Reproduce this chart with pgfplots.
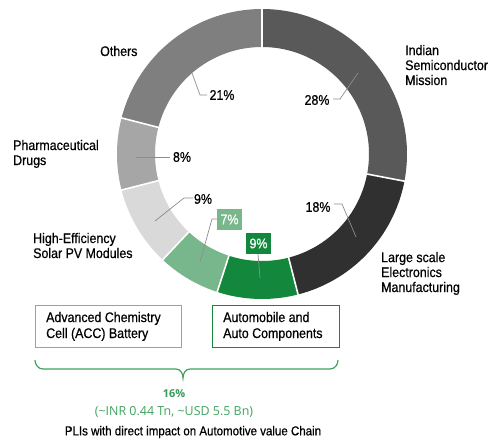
\documentclass[border=0pt]{standalone}
\usepackage{pgfplots}
\pgfplotsset{compat=1.18}
\usepackage{fontspec}
\setmainfont{Liberation Sans}[FakeStretch=0.89, FakeBold=0.6]
\newfontfamily\osans{Open Sans}
\definecolor{cSemi}{HTML}{595959}
\definecolor{cElec}{HTML}{303030}
\definecolor{cAuto}{HTML}{13883C}
\definecolor{cACC}{HTML}{78B78B}
\definecolor{cSolar}{HTML}{D9D9D9}
\definecolor{cPharma}{HTML}{A6A6A6}
\definecolor{cOthers}{HTML}{7F7F7F}
\definecolor{cBrace}{HTML}{3FA35E}
\definecolor{cLead}{HTML}{8C8C8C}
\newcommand{\lab}{\fontsize{14}{15}\selectfont}
% segment: cumulative start %, cumulative end %, colour
\newcommand{\seg}[3]{\addplot[draw=#3, line width=38bp, domain=90-3.6*#2:90-3.6*#1, samples=80] ({262+126*cos(x)},{154-126*sin(x)});}
\begin{document}
\begin{tikzpicture}
\begin{axis}[
  width=488bp, height=444bp, scale only axis,
  xmin=0, xmax=488, ymin=0, ymax=444, y dir=reverse,
  enlargelimits=false, axis lines=none, clip=false,
  every axis plot/.append style={no marks},
]
% shares (%): Semiconductor 28, Electronics 18, Automobile 9, ACC 7, Solar 9, Pharma 8, Others 21
\seg{0}{28}{cSemi}
\seg{28}{46}{cElec}
\seg{46}{55}{cAuto}
\seg{55}{62}{cACC}
\seg{62}{71}{cSolar}
\seg{71}{79}{cPharma}
\seg{79}{100}{cOthers}
\pgfplotsinvokeforeach{0,28,46,55,62,71,79}{
  \addplot[white, line width=1.6bp, domain=105:147, samples=2] ({262+x*cos(90-3.6*#1)},{154-x*sin(90-3.6*#1)});
}
% leader lines
\addplot[cLead, line width=0.7bp] coordinates {(333,99) (340,99) (358,73)};
\addplot[cLead, line width=0.7bp] coordinates {(334,204) (342,204) (356,237)};
\addplot[cLead, line width=0.7bp] coordinates {(192,73) (200,95) (207,95)};
\addplot[cLead, line width=0.7bp] coordinates {(136,157) (170,157)};
\addplot[cLead, line width=0.7bp] coordinates {(193,198) (184,198) (155,221)};
\addplot[cLead, line width=0.7bp] coordinates {(217,219) (212,219) (200,262)};
\addplot[cLead, line width=0.7bp] coordinates {(258,254) (260,278)};
% percentage labels
\node[font=\lab, anchor=center] at (axis cs:317,100) {28\%};
\node[font=\lab, anchor=center] at (axis cs:318,207) {18\%};
\node[font=\lab, anchor=center] at (axis cs:222,95) {21\%};
\node[font=\lab, anchor=center] at (axis cs:182,157) {8\%};
\node[font=\lab, anchor=center] at (axis cs:203,199) {9\%};
\node[fill=cACC, text=white, font=\lab, inner sep=0pt, minimum width=25bp, minimum height=21bp] at (axis cs:229.5,219.5) {7\%};
\node[fill=cAuto, text=white, font=\lab, inner sep=0pt, minimum width=25bp, minimum height=21bp] at (axis cs:258.5,243.5) {9\%};
% category labels (anchor = baseline of the last line)
\node[font=\lab, anchor=base west, align=left, inner sep=0pt] at (axis cs:100,56) {Others};
\node[font=\lab, anchor=base west, align=left, inner sep=0pt] at (axis cs:405,85) {Indian\\Semiconductor\\Mission};
\node[font=\lab, anchor=base west, align=left, inner sep=0pt] at (axis cs:13,165) {Pharmaceutical\\Drugs};
\node[font=\lab, anchor=base west, align=left, inner sep=0pt] at (axis cs:33,258) {High-Efficiency\\Solar PV Modules};
\node[font=\lab, anchor=base west, align=left, inner sep=0pt] at (axis cs:381,292) {Large scale\\Electronics\\Manufacturing};
% boxes
\draw[cACC, line width=1bp] (axis cs:35,305) rectangle (axis cs:181,347);
\draw[cAuto, line width=1bp] (axis cs:212,305) rectangle (axis cs:339,347);
\node[font=\fontsize{14}{16}\selectfont, anchor=base west, align=left, inner sep=0pt] at (axis cs:46,338) {Advanced Chemistry\\Cell (ACC) Battery};
\node[font=\fontsize{14}{16}\selectfont, anchor=base west, align=left, inner sep=0pt] at (axis cs:223,338) {Automobile and\\Auto Components};
% brace
\draw[cBrace, line width=1.2bp] (axis cs:35,360) to[out=-90,in=180] (axis cs:43,369) -- (axis cs:176,369) to[out=0,in=90] (axis cs:183,378) to[out=90,in=180] (axis cs:190,369) -- (axis cs:330,369) to[out=0,in=-90] (axis cs:338,360);
\node[text=cAuto!85!white, font=\osans\bfseries\fontsize{11}{12}\selectfont, anchor=center] at (axis cs:174,394) {16\%};
\node[text=cBrace, font=\osans\fontsize{12.5}{13}\selectfont, anchor=center] at (axis cs:174,412) {(\textasciitilde INR 0.44 Tn, \textasciitilde USD 5.5 Bn)};
\node[font=\fontsize{13}{14}\selectfont, anchor=center] at (axis cs:193,432) {PLIs with direct impact on Automotive value Chain};
\end{axis}
\pgfresetboundingbox
\path[use as bounding box] (current axis.south west) rectangle (current axis.north east);
\end{tikzpicture}
\end{document}
